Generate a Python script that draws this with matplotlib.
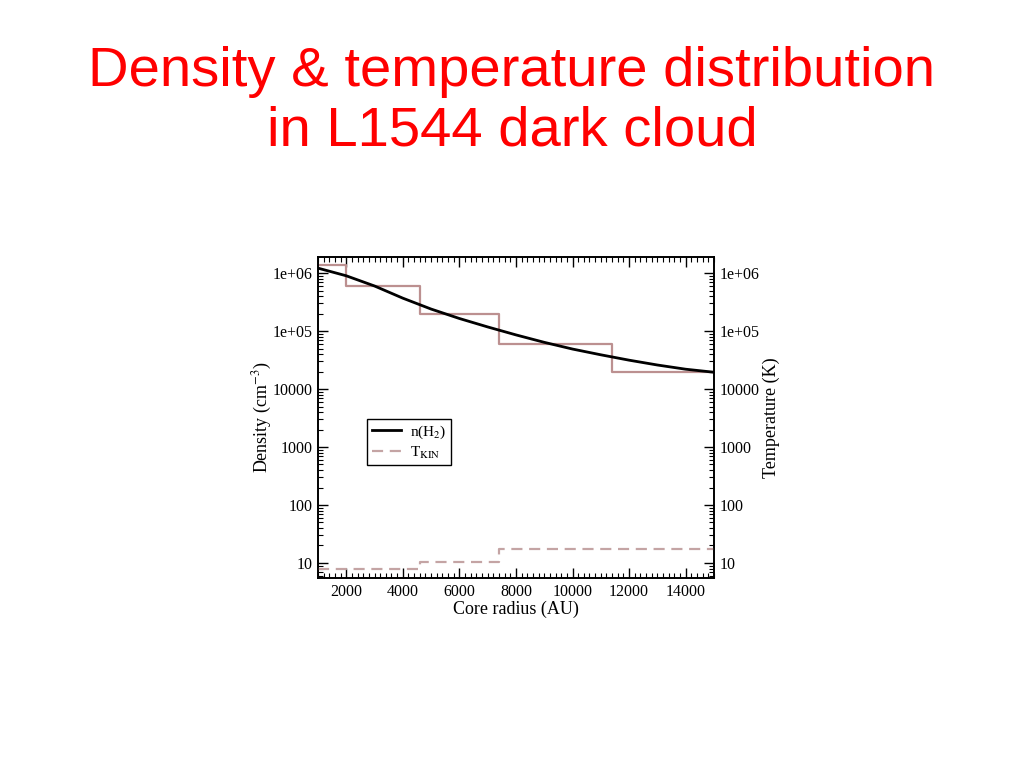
import matplotlib
matplotlib.use("Agg")
import matplotlib.pyplot as plt
from matplotlib.ticker import LogLocator, MultipleLocator, FixedLocator, FixedFormatter, NullFormatter
from matplotlib.lines import Line2D

plt.rcParams["mathtext.fontset"] = "stix"

# Data
radius = [1000, 2000, 3000, 4000, 5000, 6000, 7000, 8000, 9000, 10000,
          11000, 12000, 13000, 14000, 15000]
density = [1.22e6, 9.0e5, 6.0e5, 3.7e5, 2.4e5, 1.65e5, 1.18e5, 8.6e4, 6.4e4,
           4.9e4, 3.9e4, 3.15e4, 2.6e4, 2.2e4, 1.95e4]
step_edges = [1000, 2000, 4600, 7400, 11400, 15000]
step_density = [1.4e6, 6.0e5, 2.0e5, 6.0e4, 2.0e4]
temp_edges = [1000, 4600, 7400, 15000]
temp_values = [8.0, 10.2, 17.5]
ytick_vals = [10, 100, 1000, 1e4, 1e5, 1e6]
ytick_labels = ["10", "100", "1000", "10000", "1e+05", "1e+06"]
xtick_vals = [2000, 4000, 6000, 8000, 10000, 12000, 14000]

serif = ["Liberation Serif", "DejaVu Serif"]
brown = "#BC9090"
dash_col = "#C4A4A4"

fig = plt.figure(figsize=(10.24, 7.68), dpi=100)
fig.patch.set_facecolor("white")
fig.text(0.5, 0.8675, "Density & temperature distribution\nin L1544 dark cloud",
         ha="center", va="center", color="#FF0000", fontsize=40.5,
         family=["Liberation Sans", "DejaVu Sans"], linespacing=1.2)

ax = fig.add_axes([0.3105, 0.2474, 0.3867, 0.418])
ax.set_yscale("log")
ax.set_xlim(1000, 15000)
ax.set_ylim(5.5, 1.9e6)

sy = step_density + [step_density[-1]]
ax.step(step_edges, sy, where="post", color=brown, lw=1.6, zorder=2)
ax.plot(radius, density, color="black", lw=2.0, zorder=3)

ax2 = ax.twinx()
ax2.set_yscale("log")
ax2.set_ylim(5.5, 1.9e6)
ty = temp_values + [temp_values[-1]]
ax2.step(temp_edges, ty, where="post", color=dash_col, lw=1.6, ls=(0, (5, 3)))

handles = [Line2D([], [], color="black", lw=2.0),
           Line2D([], [], color=dash_col, lw=1.6, ls=(0, (5, 3)))]
leg = ax.legend(handles, ["n(H$_2$)", "T$_{\\mathrm{KIN}}$"], loc="upper left",
                bbox_to_anchor=(0.105, 0.52), frameon=True, fancybox=False,
                edgecolor="black", framealpha=1, handlelength=1.9,
                handletextpad=0.6, borderpad=0.3, labelspacing=0.25,
                prop={"family": serif, "size": 11})
leg.get_frame().set_linewidth(1.0)

for a in (ax, ax2):
    a.yaxis.set_major_locator(FixedLocator(ytick_vals))
    a.yaxis.set_major_formatter(FixedFormatter(ytick_labels))
    a.yaxis.set_minor_locator(LogLocator(base=10, subs=range(2, 10), numticks=20))
    a.yaxis.set_minor_formatter(NullFormatter())
    for s in a.spines.values():
        s.set_linewidth(1.2)

ax.xaxis.set_major_locator(FixedLocator(xtick_vals))
ax.xaxis.set_minor_locator(MultipleLocator(200))
ax.tick_params(axis="both", which="major", direction="in", length=7, width=1.0,
               top=True, labelsize=11.5, pad=4)
ax.tick_params(axis="both", which="minor", direction="in", length=3.5, width=0.8, top=True)
ax.tick_params(axis="y", which="both", right=False)
ax2.tick_params(axis="y", which="major", direction="in", length=7, width=1.0, labelsize=11.5, pad=4)
ax2.tick_params(axis="y", which="minor", direction="in", length=3.5, width=0.8)

for lab in ax.get_xticklabels() + ax.get_yticklabels() + ax2.get_yticklabels():
    lab.set_family(serif)

ax.set_xlabel("Core radius (AU)", family=serif, fontsize=13, labelpad=1)
ax.set_ylabel("Density (cm$^{-3}$)", family=serif, fontsize=13, labelpad=-1)
ax2.set_ylabel("Temperature (K)", family=serif, fontsize=13, labelpad=2)

fig.savefig("out.png", dpi=100)
